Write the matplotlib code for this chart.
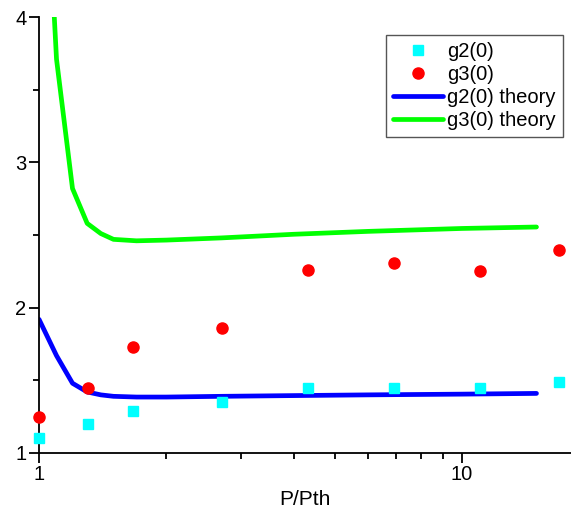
import matplotlib
matplotlib.use("Agg")
import matplotlib.pyplot as plt
from matplotlib.ticker import FixedLocator, MultipleLocator, NullFormatter

plt.rcParams['font.family'] = ['Liberation Sans', 'DejaVu Sans']
plt.rcParams['font.size'] = 14

# measured points
p_meas = [1.0, 1.305, 1.67, 2.71, 4.32, 6.91, 11.0, 17.0]
g2_meas = [1.10, 1.20, 1.29, 1.35, 1.445, 1.45, 1.45, 1.49]
g3_meas = [1.25, 1.45, 1.73, 1.86, 2.26, 2.31, 2.25, 2.40]

# theory curves
p_theory = [1.0, 1.1, 1.2, 1.3, 1.4, 1.5, 1.7, 2.0, 2.7, 4.0, 6.0, 10.0, 15.0]
g2_theory = [1.92, 1.67, 1.48, 1.42, 1.40, 1.39, 1.385, 1.385, 1.39, 1.395, 1.40, 1.405, 1.41]
g3_theory = [6.0, 3.71, 2.82, 2.58, 2.51, 2.47, 2.46, 2.465, 2.48, 2.505, 2.525, 2.545, 2.555]

fig = plt.figure(figsize=(5.71, 5.21), dpi=100)
ax = fig.add_axes([39 / 571, 68 / 521, 532 / 571, 436 / 521])

ax.plot(p_meas, g2_meas, 's', color='#00ffff', markersize=7, label='g2(0)', clip_on=False, zorder=3)
ax.plot(p_meas, g3_meas, 'o', color='#ff0000', markersize=8, label='g3(0)', clip_on=False, zorder=3)
ax.plot(p_theory, g2_theory, '-', color='#0000ff', lw=3.4, label='g2(0) theory', solid_capstyle='round')
ax.plot(p_theory, g3_theory, '-', color='#00ff00', lw=3.4, label='g3(0) theory', solid_capstyle='round')

ax.set_xscale('log')
ax.set_xlim(1, 18.1)
ax.set_ylim(1, 4)

ax.xaxis.set_major_locator(FixedLocator([1, 10]))
ax.xaxis.set_minor_locator(FixedLocator([2, 3, 4, 5, 6, 7, 8, 9]))
ax.xaxis.set_minor_formatter(NullFormatter())
ax.set_xticklabels(['1', '10'])
ax.yaxis.set_major_locator(MultipleLocator(1))
ax.yaxis.set_minor_locator(MultipleLocator(0.5))

ax.tick_params(which='major', direction='out', length=7, width=1.3, labelsize=14.5, pad=2)
ax.tick_params(which='minor', direction='out', length=4, width=1.3)

for s in ['top', 'right']:
    ax.spines[s].set_visible(False)
for s in ['left', 'bottom']:
    ax.spines[s].set_linewidth(1.3)

ax.set_xlabel('P/Pth', fontsize=15, labelpad=4)

leg = ax.legend(loc='upper right', bbox_to_anchor=(563 / 571, 486 / 521),
                bbox_transform=fig.transFigure, borderaxespad=0,
                fancybox=False, edgecolor='#555555', framealpha=1,
                handlelength=2.5, handletextpad=0.2, labelspacing=0.2,
                borderpad=0.35, fontsize=14.5)
leg.get_frame().set_linewidth(1.0)

fig.savefig('out.png', dpi=100)
